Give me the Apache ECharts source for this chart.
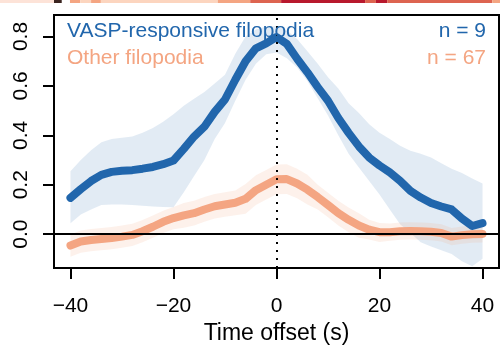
<!DOCTYPE html>
<html>
<head>
<meta charset="utf-8">
<script src="https://cdn.jsdelivr.net/npm/echarts@6/dist/echarts.min.js"></script>
<style>
  html, body { margin: 0; padding: 0; background: #fff; }
  #chart { width: 500px; height: 345px; }
</style>
</head>
<body>
<div id="chart"></div>
<script>
// Time axis (seconds relative to the event)
const timeSec = [-40,-38,-36,-34,-32,-30,-28,-26,-24,-22,-20,-18,-16,-14,-12,-10,-8,-6,-4,-2,0,2,4,6,8,10,12,14,16,18,20,22,24,26,28,30,32,34,36,38,40];

// VASP-responsive filopodia: mean and confidence band
const vaspMean  = [0.147,0.182,0.215,0.240,0.252,0.257,0.259,0.265,0.272,0.283,0.298,0.345,0.395,0.435,0.495,0.545,0.625,0.700,0.752,0.772,0.798,0.770,0.710,0.655,0.595,0.540,0.470,0.410,0.355,0.310,0.278,0.250,0.216,0.175,0.148,0.126,0.112,0.100,0.063,0.033,0.045];
const vaspUpper = [0.255,0.300,0.340,0.372,0.385,0.390,0.395,0.410,0.430,0.455,0.485,0.520,0.548,0.575,0.610,0.645,0.730,0.800,0.828,0.840,0.842,0.825,0.790,0.740,0.690,0.635,0.590,0.530,0.490,0.445,0.410,0.385,0.358,0.338,0.325,0.310,0.287,0.265,0.248,0.225,0.205];
const vaspLower = [0.044,0.080,0.100,0.118,0.120,0.120,0.118,0.115,0.112,0.110,0.109,0.170,0.235,0.300,0.385,0.450,0.540,0.625,0.690,0.728,0.735,0.712,0.675,0.620,0.550,0.480,0.400,0.325,0.270,0.215,0.160,0.100,0.040,0.005,-0.033,-0.050,-0.065,-0.080,-0.110,-0.130,-0.100];

// Other filopodia: mean and confidence band
const otherMean  = [-0.046,-0.030,-0.024,-0.020,-0.016,-0.010,-0.003,0.012,0.030,0.050,0.065,0.076,0.085,0.100,0.113,0.120,0.127,0.143,0.178,0.200,0.222,0.223,0.205,0.180,0.150,0.118,0.085,0.058,0.035,0.018,0.008,0.008,0.012,0.013,0.012,0.010,0.005,-0.010,-0.004,0.000,0.001];
const otherUpper = [-0.001,0.015,0.021,0.025,0.029,0.035,0.042,0.057,0.075,0.095,0.110,0.126,0.135,0.150,0.163,0.170,0.177,0.203,0.238,0.260,0.282,0.283,0.265,0.240,0.200,0.168,0.135,0.108,0.085,0.058,0.045,0.043,0.047,0.048,0.047,0.045,0.040,0.025,0.031,0.035,0.036];
const otherLower = [-0.091,-0.075,-0.069,-0.065,-0.061,-0.055,-0.048,-0.033,-0.015,0.005,0.020,0.026,0.035,0.050,0.063,0.070,0.077,0.083,0.118,0.140,0.162,0.163,0.145,0.120,0.100,0.068,0.035,0.008,-0.015,-0.022,-0.032,-0.027,-0.023,-0.022,-0.023,-0.025,-0.030,-0.045,-0.039,-0.035,-0.034];

// Tick values
const xTicks = [-40, -20, 0, 20, 40];
const yTicks = [0, 0.2, 0.4, 0.6, 0.8];

// Heat strip along the top edge: segment start/end (s) and colour level
const stripStart = [-53.7,-43.2,-40.1,-38.1,-36.0,-34.1,-11.4,-5.1,0.9,17.2,19.3,21.5,41.9];
const stripEnd   = [-43.2,-41.7,-38.1,-36.0,-34.1,-11.4,-5.1,0.9,17.2,19.3,21.5,41.9,43.4];
const stripLevel = [0,5,2,1,2,1,2,3,4,3,4,3,2];
const stripPalette = ['#fde3d8', '#fcd5bf', '#f4a582', '#dd6450', '#b8182d', '#3a2420'];

// Legend labels
const groupNames = ['VASP-responsive filopodia', 'Other filopodia'];
const groupCounts = ['n = 9', 'n = 67'];

const BLUE = '#2166ac';
const SALMON = '#f4a582';
const FONT = '"Liberation Sans", Arial, Helvetica, sans-serif';

const X_MIN = -43.2, X_MAX = 43.2;
const Y_MIN = -0.137, Y_MAX = 0.887;

function bandSeries(upper, lower, fill) {
  return {
    type: 'custom',
    xAxisIndex: 0, yAxisIndex: 0,
    clip: true,
    z: 1,
    silent: true,
    data: timeSec.map((t, i) => [t, lower[i], upper[i]]),
    renderItem: function (params, api) {
      if (params.dataIndex !== 0) return null;
      const pts = [];
      for (let i = 0; i < timeSec.length; i++) pts.push(api.coord([timeSec[i], upper[i]]));
      for (let i = timeSec.length - 1; i >= 0; i--) pts.push(api.coord([timeSec[i], lower[i]]));
      return { type: 'polygon', shape: { points: pts }, style: { fill: fill, stroke: null } };
    }
  };
}

function meanSeries(values, color, extra) {
  return Object.assign({
    type: 'line',
    xAxisIndex: 0, yAxisIndex: 0,
    data: timeSec.map((t, i) => [t, values[i]]),
    showSymbol: false,
    symbol: 'none',
    silent: true,
    z: 3,
    lineStyle: { color: color, width: 8, cap: 'round', join: 'round' }
  }, extra || {});
}

const chart = echarts.init(document.getElementById('chart'), null, { renderer: 'canvas' });

chart.setOption({
  animation: false,
  backgroundColor: '#fff',
  textStyle: { fontFamily: FONT },
  grid: [
    { left: 54, right: 1, top: 15, bottom: 77, containLabel: false, outerBoundsMode: 'none',
      show: true, borderColor: '#000', borderWidth: 2, backgroundColor: 'transparent', z: 5 },
    { left: 0, right: 1, top: 0, height: 3, containLabel: false, outerBoundsMode: 'none' }
  ],
  xAxis: [
    {
      type: 'value', gridIndex: 0, min: X_MIN, max: X_MAX, position: 'bottom',
      axisLine: { show: false, onZero: false },
      splitLine: { show: false },
      axisTick: { show: true, length: 11, lineStyle: { color: '#000', width: 2 }, customValues: xTicks },
      axisLabel: {
        customValues: xTicks, margin: 28, color: '#000', fontSize: 21, fontFamily: FONT,
        formatter: v => (v < 0 ? '\u2212' + Math.abs(v) : String(v))
      },
      name: 'Time offset (s)', nameLocation: 'middle', nameGap: 53,
      nameTextStyle: { color: '#000', fontSize: 23, fontFamily: FONT }
    },
    {
      type: 'value', gridIndex: 1, min: X_MIN - 54 * (X_MAX - X_MIN) / 445, max: X_MAX,
      show: false
    }
  ],
  yAxis: [
    {
      type: 'value', gridIndex: 0, min: Y_MIN, max: Y_MAX, position: 'left',
      axisLine: { show: false, onZero: false },
      splitLine: { show: false },
      axisTick: { show: true, length: 11, lineStyle: { color: '#000', width: 2 }, customValues: yTicks },
      axisLabel: {
        customValues: yTicks, rotate: 90, margin: 22, color: '#000', fontSize: 21, fontFamily: FONT,
        formatter: v => v.toFixed(1)
      }
    },
    { type: 'value', gridIndex: 1, min: 0, max: 1, show: false }
  ],
  graphic: [
    { type: 'text', left: 67, top: 21, z: 10, style: { text: groupNames[0], fill: BLUE, font: '21px ' + FONT } },
    { type: 'text', left: 67, top: 48, z: 10, style: { text: groupNames[1], fill: SALMON, font: '21px ' + FONT } },
    { type: 'text', right: 14, top: 21, z: 10, style: { text: groupCounts[0], fill: BLUE, font: '21px ' + FONT, textAlign: 'right' } },
    { type: 'text', right: 14, top: 48, z: 10, style: { text: groupCounts[1], fill: SALMON, font: '21px ' + FONT, textAlign: 'right' } }
  ],
  series: [
    {
      type: 'custom',
      xAxisIndex: 1, yAxisIndex: 1,
      silent: true,
      data: stripStart.map((s, i) => [s, stripEnd[i], stripLevel[i]]),
      renderItem: function (params, api) {
        const a = api.coord([api.value(0), 0]);
        const b = api.coord([api.value(1), 0]);
        const cs = params.coordSys;
        return {
          type: 'rect',
          shape: { x: a[0], y: cs.y, width: b[0] - a[0], height: cs.height },
          style: { fill: stripPalette[api.value(2)] }
        };
      }
    },
    bandSeries(vaspUpper, vaspLower, 'rgba(33,102,172,0.13)'),
    bandSeries(otherUpper, otherLower, 'rgba(244,165,130,0.16)'),
    meanSeries(vaspMean, BLUE),
    meanSeries(otherMean, SALMON, {
      markLine: {
        silent: true,
        symbol: 'none',
        label: { show: false },
        z: 6,
        data: [
          { yAxis: 0, lineStyle: { color: '#000', width: 2, type: 'solid' } },
          { xAxis: 0, lineStyle: { color: '#000', width: 2, type: [2, 6] } }
        ]
      }
    })
  ]
});
</script>
</body>
</html>
